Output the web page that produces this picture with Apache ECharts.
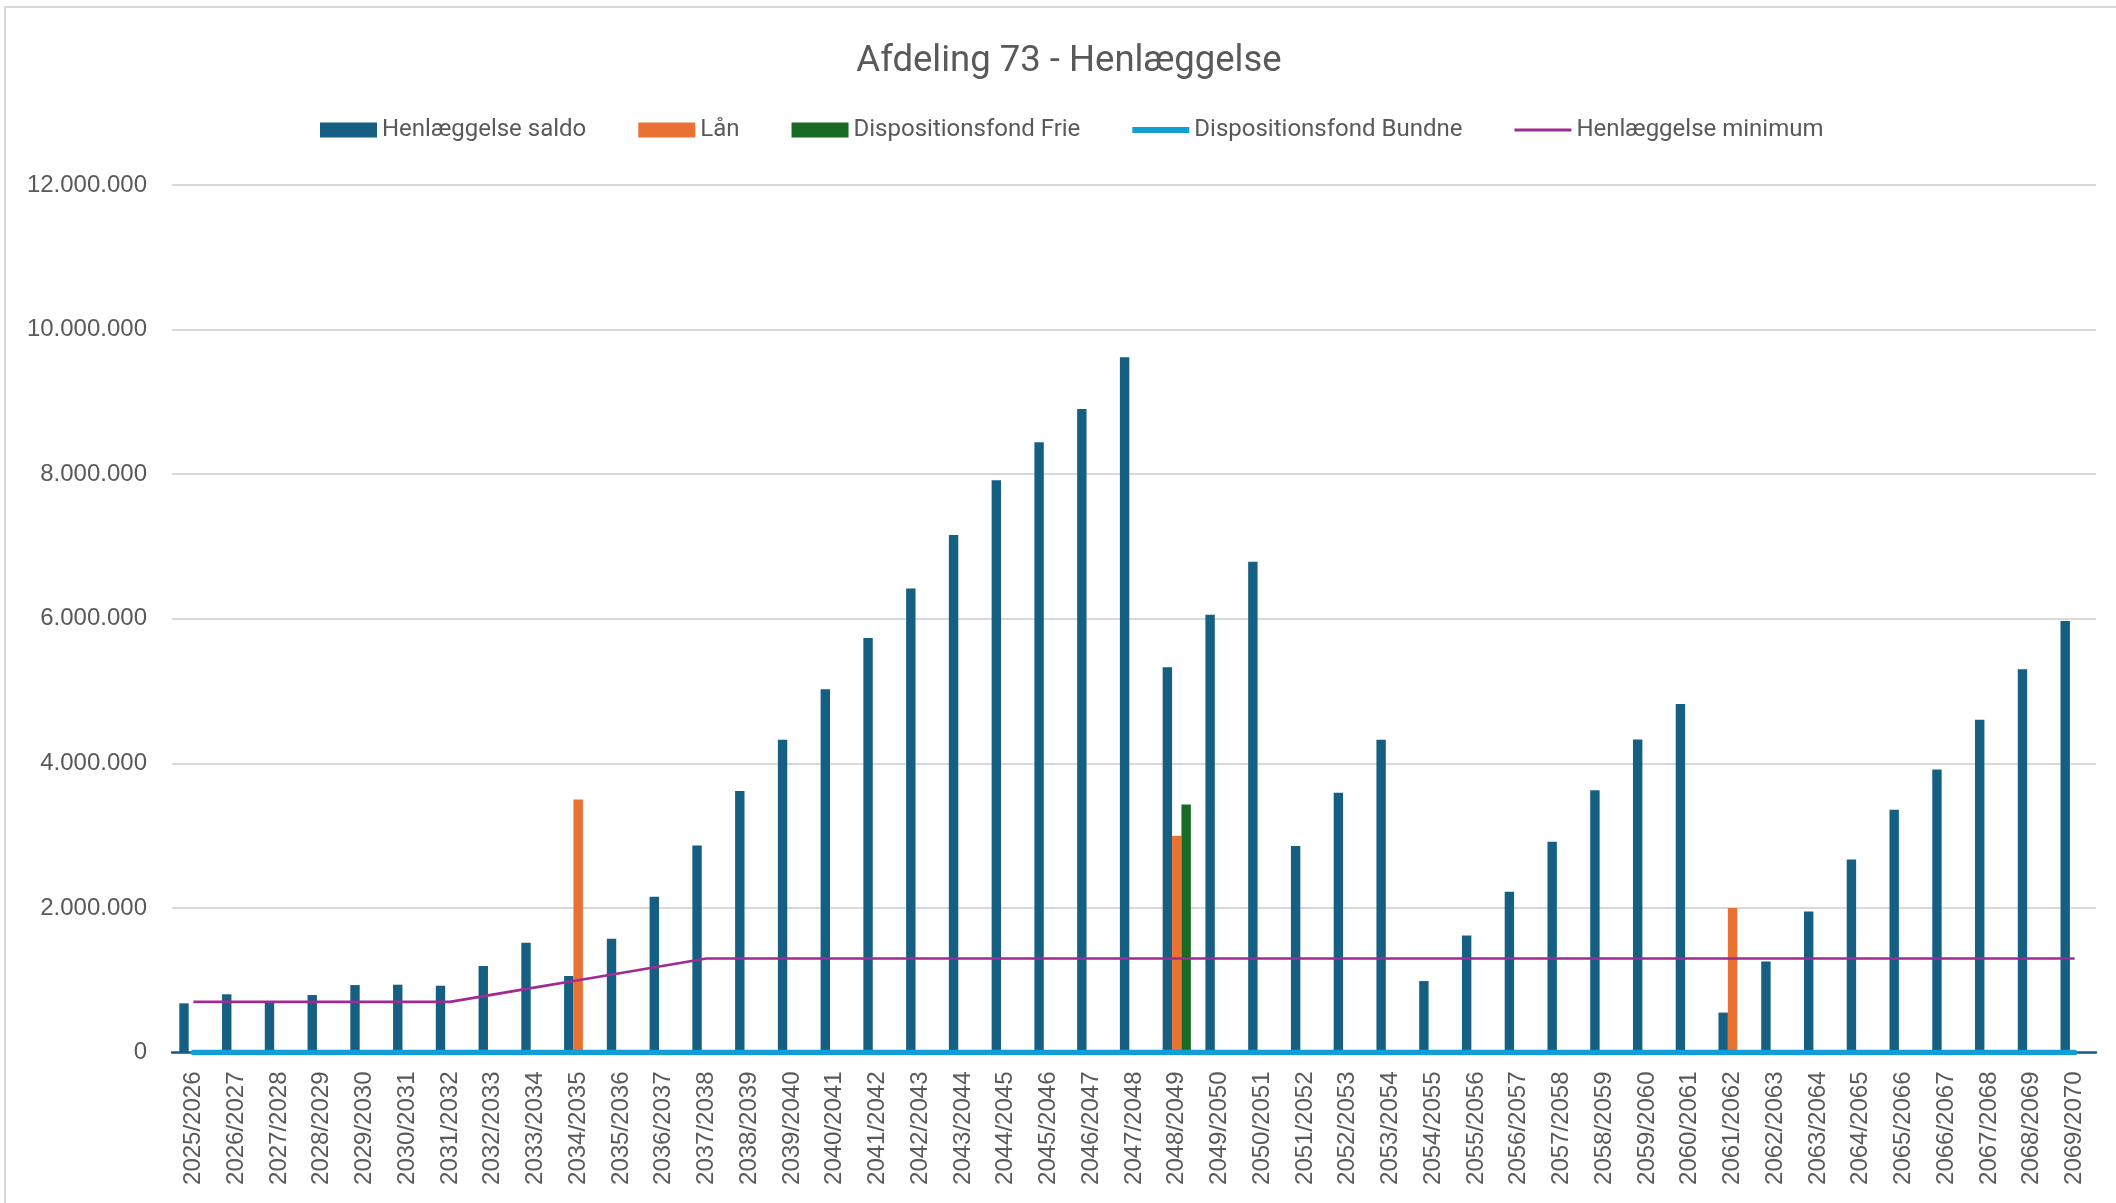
<!DOCTYPE html>
<html>
<head>
<meta charset="utf-8">
<script src="https://cdn.jsdelivr.net/npm/echarts@6/dist/echarts.min.js"></script>
<style>
html,body{margin:0;padding:0;background:#fff;}
#chart{width:2116px;height:1203px;}
</style>
</head>
<body>
<div id="chart"></div>
<script>
const categories = ["2025/2026","2026/2027","2027/2028","2028/2029","2029/2030","2030/2031","2031/2032","2032/2033","2033/2034","2034/2035","2035/2036","2036/2037","2037/2038","2038/2039","2039/2040","2040/2041","2041/2042","2042/2043","2043/2044","2044/2045","2045/2046","2046/2047","2047/2048","2048/2049","2049/2050","2050/2051","2051/2052","2052/2053","2053/2054","2054/2055","2055/2056","2056/2057","2057/2058","2058/2059","2059/2060","2060/2061","2061/2062","2062/2063","2063/2064","2064/2065","2065/2066","2066/2067","2067/2068","2068/2069","2069/2070"];

const henlaeggelseSaldo = [680000,805000,690000,795000,933000,938000,924000,1196000,1519000,1058000,1574000,2155000,2865000,3616000,4325000,5025000,5735000,6418000,7160000,7916000,8442000,8903000,9617000,5330000,6054000,6787000,2855000,3593000,4325000,988000,1619000,2224000,2915000,3626000,4331000,4820000,552000,1260000,1952000,2671000,3358000,3916000,4603000,5300000,5968000];

const laan = [0,0,0,0,0,0,0,0,0,3500000,0,0,0,0,0,0,0,0,0,0,0,0,0,3000000,0,0,0,0,0,0,0,0,0,0,0,0,2000000,0,0,0,0,0,0,0,0];

const dispFrie = [0,0,0,0,0,0,0,0,0,0,0,0,0,0,0,0,0,0,0,0,0,0,0,3430000,0,0,0,0,0,0,0,0,0,0,0,0,0,0,0,0,0,0,0,0,0];

const dispBundne = [0,0,0,0,0,0,0,0,0,0,0,0,0,0,0,0,0,0,0,0,0,0,0,0,0,0,0,0,0,0,0,0,0,0,0,0,0,0,0,0,0,0,0,0,0];

const henlaeggelseMinimum = [700000,700000,700000,700000,700000,700000,700000,800000,900000,1000000,1100000,1200000,1300000,1300000,1300000,1300000,1300000,1300000,1300000,1300000,1300000,1300000,1300000,1300000,1300000,1300000,1300000,1300000,1300000,1300000,1300000,1300000,1300000,1300000,1300000,1300000,1300000,1300000,1300000,1300000,1300000,1300000,1300000,1300000,1300000];

const yTicks = {min: 0, max: 12000000, interval: 2000000};

function fmt(v){
  return String(Math.round(v)).replace(/\B(?=(\d{3})+(?!\d))/g, '.');
}

const chart = echarts.init(document.getElementById('chart'));
const txt = '#595959';
chart.setOption({
  animation: false,
  backgroundColor: '#ffffff',
  graphic: [{
    type: 'rect', silent: true,
    shape: {x: 5, y: 7, width: 2200, height: 1300},
    style: {fill: 'none', stroke: '#d9d9d9', lineWidth: 2}
  }],
  title: {
    text: 'Afdeling 73 - Henlæggelse',
    left: 1064, top: 38, textAlign: 'center',
    textStyle: {fontFamily: 'Roboto', fontSize: 36.5, fontWeight: 'normal', color: txt}
  },
  legend: {
    top: 113, left: 315,
    itemWidth: 57, itemHeight: 15, itemGap: 52,
    textStyle: {fontFamily: 'Roboto', fontSize: 24, color: txt},
    data: [
      {name: 'Henlæggelse saldo', icon: 'rect'},
      {name: 'Lån', icon: 'rect'},
      {name: 'Dispositionsfond Frie', icon: 'rect'},
      {name: 'Dispositionsfond Bundne', icon: 'path://M0,0 L57,0 L57,6 L0,6 Z'},
      {name: 'Henlæggelse minimum', icon: 'path://M0,0 L57,0 L57,3 L0,3 Z'}
    ]
  },
  grid: {left: 172, right: 20, top: 185, bottom: 150.5, containLabel: false},
  xAxis: {
    type: 'category', data: categories,
    axisTick: {show: false},
    axisLine: {show: true, lineStyle: {color: '#156082', width: 2.5}},
    axisLabel: {rotate: 90, interval: 0, margin: 19, fontFamily: 'Liberation Sans', fontSize: 24, color: txt}
  },
  yAxis: {
    type: 'value', min: yTicks.min, max: yTicks.max, interval: yTicks.interval,
    axisLine: {show: false}, axisTick: {show: false},
    splitLine: {lineStyle: {color: '#d9d9d9', width: 2}},
    axisLabel: {margin: 25, fontFamily: 'Liberation Sans', fontSize: 24, color: txt, formatter: fmt}
  },
  series: [
    {name: 'Henlæggelse saldo', type: 'bar', data: henlaeggelseSaldo, barWidth: 9.4, barGap: '0%', itemStyle: {color: '#156082'}},
    {name: 'Lån', type: 'bar', data: laan, barWidth: 9.4, barGap: '0%', itemStyle: {color: '#E97132'}},
    {name: 'Dispositionsfond Frie', type: 'bar', data: dispFrie, barWidth: 9.4, barGap: '0%', itemStyle: {color: '#196B24'}},
    {name: 'Dispositionsfond Bundne', type: 'line', data: dispBundne, symbol: 'none', lineStyle: {color: '#0F9ED5', width: 5.5, cap: 'round'}, itemStyle: {color: '#0F9ED5'}, z: 3},
    {name: 'Henlæggelse minimum', type: 'line', data: henlaeggelseMinimum, symbol: 'none', lineStyle: {color: '#A02B93', width: 2.7}, itemStyle: {color: '#A02B93'}, z: 4}
  ]
});
</script>
</body>
</html>
